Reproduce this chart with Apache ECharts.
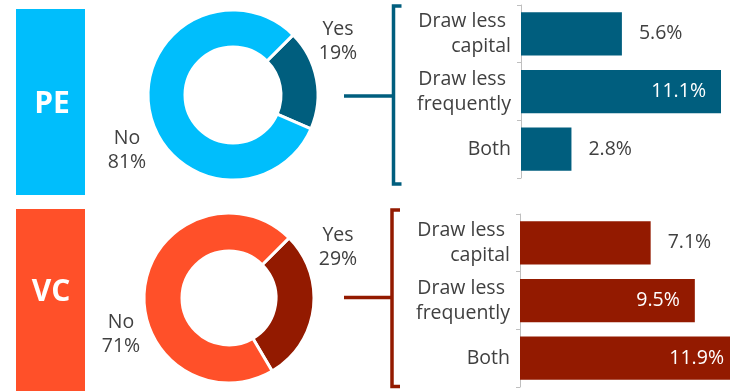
<!DOCTYPE html>
<html>
<head>
<meta charset="utf-8">
<script src="https://cdn.jsdelivr.net/npm/echarts@6/dist/echarts.min.js"></script>
<style>
  html, body { margin: 0; padding: 0; background: #fff; }
  #chart { width: 730px; height: 391px; }
</style>
</head>
<body>
<div id="chart"></div>
<script>
// Share of funds that changed drawdown behaviour, and how
const groups = ['PE', 'VC'];
const pieNames = ['Yes', 'No'];
const pePie = [19, 81];
const vcPie = [29, 71];

const categories = ['Draw less \ncapital', 'Draw less \nfrequently', 'Both'];
const peBars = [5.6, 11.1, 2.8];
const vcBars = [7.1, 9.5, 11.9];

const FONT = '"Open Sans", sans-serif';
const FS = 19.5;
const TEXT = '#404040';
const PE_LIGHT = '#00BEFC';
const PE_DARK = '#005E7E';
const VC_LIGHT = '#FF5029';
const VC_DARK = '#931A00';

// label anchors for the donut captions, per panel
const pieLabelPos = [
  [[338, 41], [127, 150]],
  [[338, 247], [121, 334]]
];

function pieSeries(idx, values, light, dark, center, radius) {
  return {
    type: 'pie',
    center: center,
    radius: radius,
    startAngle: 45,
    clockwise: true,
    silent: true,
    data: values.map((v, i) => ({
      name: pieNames[i],
      value: v,
      itemStyle: { color: i === 0 ? dark : light }
    })),
    itemStyle: { borderColor: '#fff', borderWidth: 3 },
    label: {
      show: true,
      position: 'outside',
      formatter: p => p.name + '\n' + p.value + '%',
      fontFamily: FONT,
      fontSize: FS,
      lineHeight: 24,
      color: TEXT,
      align: 'center'
    },
    labelLine: { show: false },
    labelLayout: p => ({
      x: pieLabelPos[idx][p.dataIndex][0],
      y: pieLabelPos[idx][p.dataIndex][1],
      align: 'center',
      verticalAlign: 'middle'
    })
  };
}

function barSeries(gridIdx, values, color) {
  return {
    type: 'bar',
    xAxisIndex: gridIdx,
    yAxisIndex: gridIdx,
    barWidth: '75%',
    silent: true,
    itemStyle: { color: color },
    data: values.map(v => {
      const inside = v > 9;
      return {
        value: v,
        label: {
          show: true,
          position: inside ? 'insideRight' : 'right',
          distance: inside ? 15 : 17,
          color: inside ? '#fff' : TEXT,
          fontFamily: FONT,
          fontSize: FS,
          formatter: p => p.value.toFixed(1) + '%'
        }
      };
    })
  };
}

function yAxisFor(gridIdx) {
  return {
    type: 'category',
    gridIndex: gridIdx,
    data: categories,
    inverse: true,
    axisLine: { show: true, lineStyle: { color: '#BFBFBF', width: 1 } },
    axisTick: { show: true, length: 4, lineStyle: { color: '#BFBFBF' } },
    axisLabel: {
      fontFamily: FONT,
      fontSize: FS,
      lineHeight: 25,
      color: TEXT,
      margin: 10,
      align: 'right'
    }
  };
}

function xAxisFor(gridIdx, max) {
  return {
    type: 'value',
    gridIndex: gridIdx,
    min: 0,
    max: max,
    show: false,
    splitLine: { show: false }
  };
}

function bracket(xLine, yTop, yBottom, yMid, xStart, color) {
  return [
    {
      type: 'polyline',
      shape: { points: [[xLine + 8, yTop], [xLine, yTop], [xLine, yBottom], [xLine + 8, yBottom]] },
      style: { stroke: color, lineWidth: 3.5, fill: null, lineJoin: 'miter' }
    },
    {
      type: 'line',
      shape: { x1: xStart, y1: yMid, x2: xLine, y2: yMid },
      style: { stroke: color, lineWidth: 3.5 }
    }
  ];
}

const chart = echarts.init(document.getElementById('chart'), null, { renderer: 'canvas' });

chart.setOption({
  backgroundColor: '#fff',
  animation: false,
  grid: [
    { left: 521, top: 5, width: 200, height: 173, outerBoundsMode: 'none', containLabel: false },
    { left: 520, top: 214, width: 219, height: 173, outerBoundsMode: 'none', containLabel: false }
  ],
  xAxis: [xAxisFor(0, Math.max(...peBars)), xAxisFor(1, Math.max(...vcBars))],
  yAxis: [yAxisFor(0), yAxisFor(1)],
  graphic: [
    {
      type: 'rect',
      shape: { x: 16, y: 9, width: 69, height: 186 },
      style: { fill: PE_LIGHT }
    },
    {
      type: 'text',
      x: 52, y: 104,
      style: {
        text: groups[0], fill: '#fff', fontFamily: FONT, fontWeight: 'bold',
        fontSize: 30, align: 'center', verticalAlign: 'middle'
      }
    },
    {
      type: 'rect',
      shape: { x: 16, y: 209, width: 69, height: 190 },
      style: { fill: VC_LIGHT }
    },
    {
      type: 'text',
      x: 51, y: 292,
      style: {
        text: groups[1], fill: '#fff', fontFamily: FONT, fontWeight: 'bold',
        fontSize: 30, align: 'center', verticalAlign: 'middle'
      }
    },
    ...bracket(393.5, 6, 184, 96, 344, PE_DARK),
    ...bracket(392, 210, 386.5, 297.5, 344, VC_DARK)
  ],
  series: [
    pieSeries(0, pePie, PE_LIGHT, PE_DARK, [233, 95], [48, 85]),
    pieSeries(1, vcPie, VC_LIGHT, VC_DARK, [229, 298], [47, 85]),
    barSeries(0, peBars, PE_DARK),
    barSeries(1, vcBars, VC_DARK)
  ]
});
</script>
</body>
</html>
